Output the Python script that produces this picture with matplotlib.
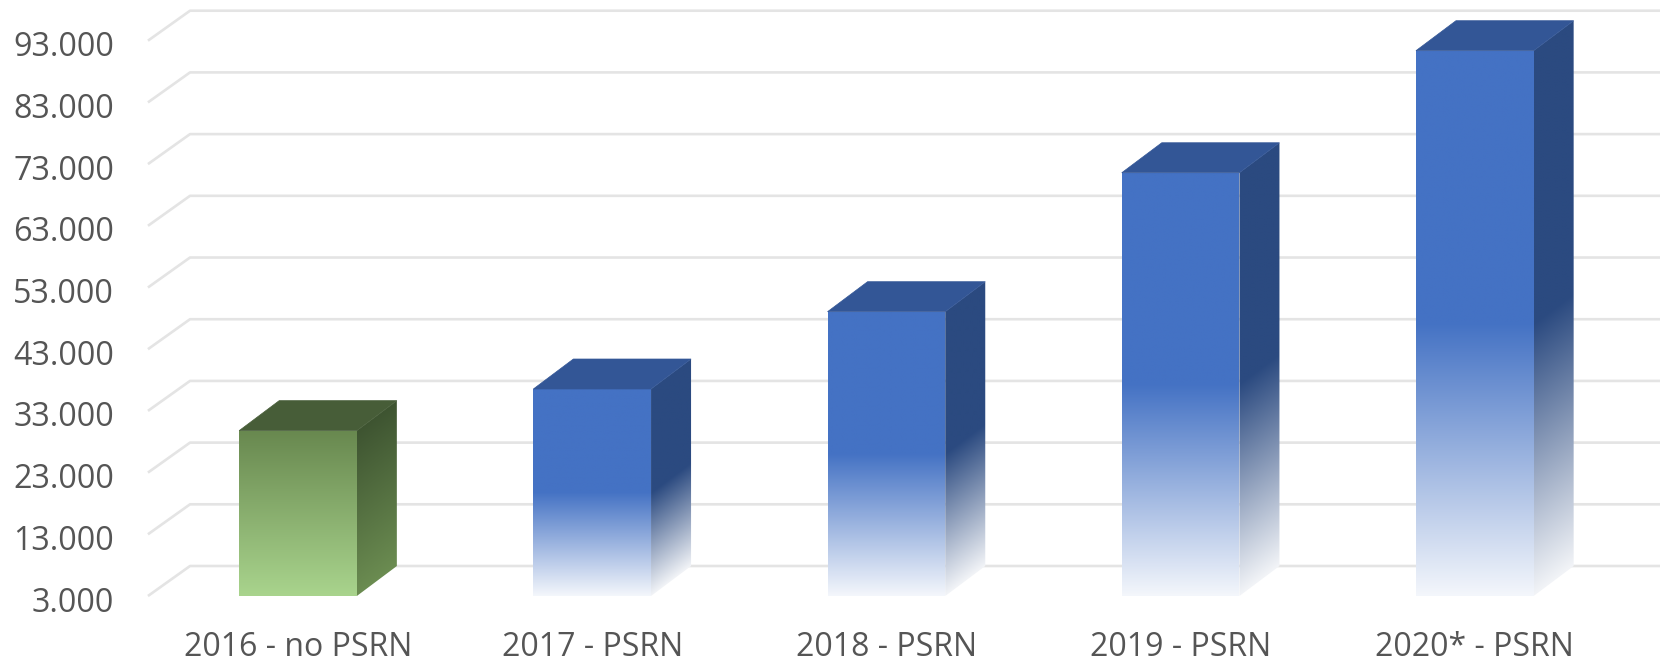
import numpy as np
import matplotlib
matplotlib.use("Agg")
import matplotlib.pyplot as plt
from matplotlib.patches import Polygon
from matplotlib.colors import to_rgb

# data
categories = ["2016 - no PSRN", "2017 - PSRN", "2018 - PSRN", "2019 - PSRN", "2020* - PSRN"]
values = [29800, 36550, 49080, 71600, 91380]
ticks = [3000, 13000, 23000, 33000, 43000, 53000, 63000, 73000, 83000, 93000]
tick_labels = ["3.000", "13.000", "23.000", "33.000", "43.000",
               "53.000", "63.000", "73.000", "83.000", "93.000"]

base = 3000
bar_w = 0.4       # front face width (category units)
dep_x = 0.136     # depth offset in x
dep_y = 4860      # depth offset in y (data units)

plt.rcParams['font.family'] = ['Open Sans', 'DejaVu Sans']
fig = plt.figure(figsize=(16.6, 6.64), dpi=100)
ax = fig.add_axes([0, 0, 1, 1])
ax.axis('off')
xlim = (-1.0129, 4.6295)
ylim = (-8021, 99596)

# gridlines: slanted piece then back wall line
grid_c = '#e4e4e4'
for t in ticks:
    ax.plot([-0.51, -0.51 + 0.143, xlim[1]], [t, t + dep_y, t + dep_y],
            color=grid_c, lw=1.9, zorder=1, solid_capstyle='butt')

for t, lab in zip(ticks, tick_labels):
    ax.text(-0.625, t - 500, lab, ha='right', va='center_baseline', fontsize=23.2, color='#555555')


def mix(c, m):
    c = np.array(to_rgb(c))
    return np.ones(3) * (1 - m[..., None]) + c * m[..., None]


def fade_blue(t):
    # solid upper half, fading to white at the bottom
    return np.where(t < 0.5, 1.0, 1.0 - (t - 0.5) / 0.5 * 0.94)


def grad_green(t, top, bot):
    top = np.array(to_rgb(top))
    bot = np.array(to_rgb(bot))
    return top * (1 - t[..., None]) + bot * t[..., None]


for i, (cat, v) in enumerate(zip(categories, values)):
    x0 = i - bar_w / 2
    x1 = i + bar_w / 2
    green = i == 0

    # front face
    front = Polygon([(x0, base), (x1, base), (x1, v), (x0, v)], closed=True,
                    facecolor='none', edgecolor='none', zorder=3)
    ax.add_patch(front)
    t = np.linspace(0, 1, 300)[:, None] * np.ones((1, 2))
    if green:
        img = grad_green(t, '#68884f', '#a9d48d')
    else:
        img = mix('#4472c4', fade_blue(t))
    im = ax.imshow(img, extent=[x0, x1, base, v], origin='upper', aspect='auto',
                   zorder=3, interpolation='bilinear')
    im.set_clip_path(front)

    # side face (gradient follows the slanted face)
    side = Polygon([(x1, base), (x1 + dep_x, base + dep_y), (x1 + dep_x, v + dep_y), (x1, v)],
                   closed=True, facecolor='none', edgecolor='none', zorder=3)
    ax.add_patch(side)
    ny, nx = 300, 40
    yy = np.linspace(v + dep_y, base, ny)[:, None]
    xx = np.linspace(x1, x1 + dep_x, nx)[None, :]
    shift = (xx - x1) / dep_x * dep_y
    ts = np.clip((v - (yy - shift)) / (v - base), 0, 1)
    if green:
        img = grad_green(ts, '#3e5431', '#6b8c51')
    else:
        img = mix('#2b4a80', fade_blue(ts))
    im = ax.imshow(img, extent=[x1, x1 + dep_x, base, v + dep_y], origin='upper',
                   aspect='auto', zorder=3, interpolation='bilinear')
    im.set_clip_path(side)

    # top face
    top_c = '#475d38' if green else '#335696'
    ax.add_patch(Polygon([(x0, v), (x1, v), (x1 + dep_x, v + dep_y), (x0 + dep_x, v + dep_y)],
                         closed=True, facecolor=top_c, edgecolor=top_c, lw=0.5, zorder=4))

    ax.text(i, -5300, cat, ha='center', va='center', fontsize=23, color='#555555')

ax.set_xlim(*xlim)
ax.set_ylim(*ylim)

plt.savefig('out.png', dpi=100, facecolor='white')
